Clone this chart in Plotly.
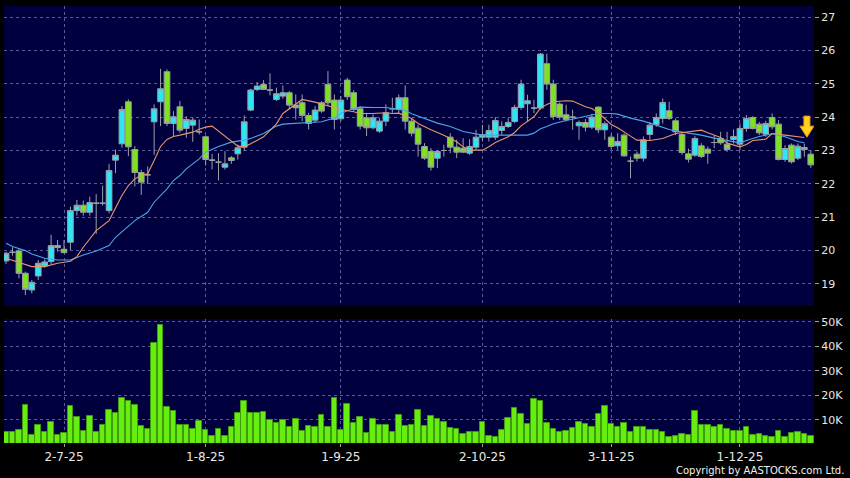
import plotly.graph_objects as go

# ---------------- data ----------------
open_ = [19.69, 19.95, 19.99, 19.32, 18.82, 19.24, 19.54, 19.67, 20.15, 20.04,
         20.25, 21.20, 21.36, 21.15, 21.42, 21.42, 21.20, 22.71, 23.20, 24.46,
         23.03, 22.34, 22.27, 23.86, 24.46, 25.36, 23.81, 24.31, 23.66, 23.76,
         23.56, 23.41, 22.72, 22.65, 22.50, 22.78, 22.90, 23.10, 24.21, 24.83,
         24.98, 24.81, 24.53, 24.63, 24.73, 24.36, 24.43, 24.05, 23.91, 24.43,
         24.98, 24.51, 23.95, 25.11, 24.73, 24.25, 23.98, 23.68, 23.58, 23.88,
         24.25, 24.23, 24.58, 23.88, 23.67, 23.12, 22.97, 22.77, 23.00, 23.40,
         23.10, 23.07, 22.92, 23.10, 23.40, 23.40, 23.40, 23.60, 23.72, 23.87,
         24.29, 24.40, 24.27, 24.27, 25.60, 24.99, 24.39, 24.07, 24.00, 23.74,
         23.84, 23.70, 24.30, 23.62, 23.40, 23.14, 23.46, 22.68, 22.89, 22.77,
         23.48, 23.78, 23.96, 24.19, 23.89, 23.48, 22.90, 22.86, 23.14, 23.04,
         23.24, 23.36, 23.19, 23.33, 23.19, 23.66, 23.99, 23.79, 23.49, 23.99,
         23.79, 22.73, 23.16, 22.77, 23.09, 22.89]
high = [19.97, 20.10, 20.07, 19.37, 19.12, 19.72, 19.74, 20.47, 20.32, 20.32,
        21.32, 21.52, 21.50, 21.62, 21.69, 21.95, 22.60, 23.03, 24.33, 24.53,
        23.13, 22.42, 22.52, 24.38, 25.45, 25.43, 24.18, 24.48, 24.03, 23.98,
        23.93, 23.45, 22.90, 22.92, 22.98, 22.83, 23.18, 24.05, 24.85, 25.05,
        25.11, 25.31, 24.88, 24.95, 24.78, 24.68, 24.68, 24.13, 24.33, 24.48,
        25.38, 24.68, 24.63, 25.18, 24.81, 24.33, 24.13, 24.08, 23.98, 24.38,
        24.58, 24.68, 24.95, 23.95, 23.77, 23.22, 23.07, 23.02, 23.17, 23.52,
        23.32, 23.37, 23.34, 23.62, 23.77, 23.77, 24.00, 23.87, 23.97, 24.37,
        25.12, 24.67, 24.52, 25.92, 25.90, 25.12, 24.44, 24.37, 24.22, 23.90,
        23.94, 24.10, 24.32, 23.87, 23.50, 23.52, 23.51, 22.82, 22.97, 23.42,
        23.86, 24.11, 24.56, 24.46, 23.96, 23.56, 23.06, 23.43, 23.22, 23.12,
        23.46, 23.56, 23.56, 23.63, 23.81, 24.06, 24.03, 23.86, 23.89, 24.11,
        23.91, 23.16, 23.21, 23.21, 23.21, 23.01]
low = [19.60, 19.85, 19.17, 18.67, 18.72, 19.12, 19.49, 19.59, 19.97, 19.92,
       20.02, 21.05, 21.05, 21.05, 20.50, 21.35, 21.12, 22.32, 23.08, 22.83,
       21.92, 21.67, 22.00, 22.87, 23.73, 23.73, 23.43, 23.53, 23.38, 23.26,
       23.48, 22.55, 22.43, 22.10, 22.43, 22.60, 22.73, 22.98, 24.18, 24.78,
       24.83, 24.65, 24.48, 24.55, 24.23, 23.93, 23.88, 23.63, 23.83, 24.13,
       24.33, 23.63, 23.88, 24.51, 24.18, 23.63, 23.43, 23.63, 23.53, 23.73,
       24.13, 24.13, 23.63, 23.42, 22.82, 22.72, 22.40, 22.47, 22.82, 22.92,
       22.77, 22.92, 22.87, 23.02, 23.27, 23.27, 23.32, 23.47, 23.67, 23.82,
       24.22, 23.87, 24.12, 24.22, 24.82, 23.92, 23.92, 23.87, 23.62, 23.32,
       23.57, 23.64, 23.52, 23.32, 23.02, 23.02, 22.81, 22.17, 22.67, 22.67,
       23.31, 23.71, 23.81, 23.91, 23.46, 22.87, 22.64, 22.81, 22.77, 22.60,
       23.07, 23.17, 22.96, 23.21, 23.00, 23.56, 23.63, 23.46, 23.41, 23.63,
       22.70, 22.66, 22.61, 22.71, 22.81, 22.48]
close = [19.92, 19.95, 19.32, 18.84, 19.05, 19.62, 19.66, 20.15, 20.09, 19.94,
         21.20, 21.36, 21.15, 21.44, 21.42, 21.42, 22.40, 22.86, 24.23, 23.11,
         22.34, 22.05, 22.27, 24.25, 24.85, 23.81, 24.01, 23.61, 23.93, 23.91,
         23.56, 22.73, 22.70, 22.65, 22.60, 22.70, 23.08, 23.86, 24.81, 24.93,
         24.83, 24.81, 24.70, 24.73, 24.36, 24.28, 24.05, 23.81, 24.21, 24.18,
         24.43, 23.93, 24.51, 24.61, 24.23, 23.73, 23.68, 23.98, 23.88, 24.13,
         24.25, 24.58, 23.88, 23.52, 23.19, 22.77, 22.50, 22.97, 23.00, 23.10,
         22.95, 22.95, 23.12, 23.40, 23.47, 23.60, 23.90, 23.72, 23.84, 24.29,
         24.99, 24.49, 24.27, 25.89, 24.99, 24.02, 24.00, 23.92, 24.00, 23.84,
         23.70, 24.00, 23.62, 23.80, 23.12, 23.27, 22.84, 22.68, 22.77, 23.32,
         23.76, 23.99, 24.44, 23.96, 23.56, 22.94, 22.74, 23.36, 22.82, 22.92,
         23.24, 23.23, 23.03, 23.42, 23.66, 23.96, 23.66, 23.53, 23.81, 23.71,
         22.73, 23.06, 22.66, 23.13, 23.03, 22.57]
volume_k = [5.0, 5.0, 5.7, 15.9, 3.9, 8.0, 5.2, 9.0, 3.9, 4.5,
            15.8, 11.0, 5.3, 11.4, 5.2, 7.8, 13.9, 12.8, 19.0, 17.6,
            16.2, 7.6, 6.4, 41.4, 48.6, 15.2, 13.7, 7.8, 7.8, 6.4,
            9.3, 6.0, 3.5, 6.1, 3.5, 7.2, 12.9, 17.8, 12.9, 12.9,
            13.3, 9.9, 8.6, 9.9, 6.9, 10.5, 5.3, 7.3, 7.2, 11.8,
            7.2, 18.9, 5.7, 16.5, 8.7, 11.3, 4.5, 10.2, 8.0, 7.8,
            5.0, 12.1, 7.6, 8.0, 14.0, 7.4, 11.7, 10.2, 9.0, 6.7,
            6.3, 4.2, 4.9, 4.9, 9.1, 3.5, 2.9, 5.7, 10.9, 14.6,
            12.5, 8.3, 18.6, 17.8, 8.8, 6.4, 5.0, 5.3, 6.5, 9.2,
            8.4, 7.2, 12.4, 15.5, 8.4, 7.1, 8.7, 5.2, 7.2, 6.9,
            5.7, 5.8, 4.8, 2.9, 3.5, 4.0, 3.7, 13.7, 7.9, 7.9,
            7.1, 8.0, 6.4, 5.3, 5.4, 7.2, 3.7, 4.0, 3.3, 2.9,
            5.6, 3.0, 4.5, 5.2, 4.0, 3.3]

ma10_idx = [0, 2, 4, 6, 8, 10, 11, 12, 13, 14, 16, 17, 18, 19, 20, 21, 22, 23, 24, 25,
            26, 27, 29, 30, 31, 32, 33, 34, 36, 37, 38, 40, 41, 42, 43, 45, 46, 48, 49, 51,
            52, 54, 55, 57, 59, 60, 61, 63, 64, 66, 68, 70, 71, 72, 74, 75, 76, 78, 79, 80,
            82, 83, 84, 85, 87, 88, 90, 91, 92, 94, 95, 97, 98, 100, 102, 104, 106, 108, 109, 111,
            112, 114, 115, 116, 118, 119, 121, 122, 124]
ma10_val = [19.77, 19.65, 19.52, 19.52, 19.62, 19.68, 19.82, 20.10, 20.35, 20.60,
            20.90, 21.30, 21.65, 21.95, 22.15, 22.25, 22.30, 22.70, 23.12, 23.33,
            23.42, 23.46, 23.55, 23.64, 23.70, 23.73, 23.58, 23.43, 23.13, 23.11,
            23.20, 23.41, 23.60, 23.80, 24.11, 24.40, 24.53, 24.45, 24.39, 24.28,
            24.23, 24.16, 24.11, 24.11, 24.13, 24.11, 24.12, 23.96, 23.81, 23.62,
            23.46, 23.26, 23.11, 23.01, 23.01, 23.11, 23.24, 23.41, 23.54, 23.74,
            24.01, 24.27, 24.38, 24.46, 24.49, 24.48, 24.31, 24.26, 24.13, 23.78,
            23.68, 23.43, 23.31, 23.30, 23.36, 23.51, 23.56, 23.61, 23.53, 23.39,
            23.22, 23.11, 23.18, 23.30, 23.34, 23.51, 23.46, 23.43, 23.39]
ma20_idx = [0, 1, 3, 4, 6, 8, 10, 11, 12, 14, 16, 17, 19, 20, 22, 23, 25, 26, 27, 28,
            30, 31, 33, 35, 37, 38, 40, 42, 43, 45, 46, 48, 49, 51, 52, 54, 55, 57, 59, 60,
            62, 63, 65, 67, 69, 71, 74, 76, 78, 79, 81, 82, 83, 84, 85, 87, 90, 92, 94, 95,
            97, 99, 101, 103, 105, 108, 110, 112, 114, 115, 117, 119, 121, 123, 124]
ma20_val = [20.22, 20.12, 20.00, 19.90, 19.77, 19.72, 19.72, 19.80, 19.87, 19.99,
            20.15, 20.40, 20.75, 20.90, 21.15, 21.45, 21.85, 22.10, 22.25, 22.45,
            22.75, 22.95, 23.12, 23.25, 23.31, 23.36, 23.51, 23.73, 23.79, 23.81,
            23.83, 23.83, 23.86, 23.97, 24.12, 24.26, 24.30, 24.29, 24.29, 24.26,
            24.20, 24.10, 23.96, 23.82, 23.72, 23.57, 23.46, 23.46, 23.46, 23.46,
            23.46, 23.52, 23.65, 23.72, 23.80, 23.90, 24.03, 24.11, 24.11, 24.09,
            23.97, 23.88, 23.76, 23.63, 23.55, 23.46, 23.37, 23.29, 23.23, 23.30,
            23.42, 23.50, 23.41, 23.27, 23.23]

tick_idx = [9, 31, 52, 74, 94, 114]
tick_text = ["2-7-25", "1-8-25", "1-9-25", "2-10-25", "3-11-25", "1-12-25"]
price_ticks = [19, 20, 21, 22, 23, 24, 25, 26, 27]
vol_ticks = [10000, 20000, 30000, 40000, 50000]
vol_tick_text = ["10K", "20K", "30K", "40K", "50K"]

marker_idx = 124      # yellow arrow marker candle
marker_tip = 23.40    # price level of the arrow tip

# ---------------- styling ----------------
FONT = "DejaVu Sans"
BG = "#00003f"
GRID = "#5a5a98"
UP = "#2fe6f4"
DOWN = "#7ee31e"
EDGE = "#9aa0a6"
VOLC = "#66ee11"

idx = list(range(len(close)))
up_i = [i for i in idx if close[i] - open_[i] > 0.005]
dn_i = [i for i in idx if open_[i] - close[i] > 0.005]
dj_i = [i for i in idx if abs(close[i] - open_[i]) <= 0.005]


def sub(arr, ids):
    return [arr[i] for i in ids]


def candle(ids, fill, name):
    return go.Candlestick(
        x=ids, open=sub(open_, ids), high=sub(high, ids), low=sub(low, ids),
        close=sub(close, ids), name=name, whiskerwidth=0,
        increasing=dict(fillcolor=fill, line=dict(color=EDGE, width=1)),
        decreasing=dict(fillcolor=fill, line=dict(color=EDGE, width=1)),
        xaxis="x", yaxis="y", showlegend=False, hoverinfo="skip")


fig = go.Figure()
fig.add_trace(go.Scatter(x=ma20_idx, y=ma20_val, mode="lines",
                         line=dict(color="#4aa6e6", width=1.1),
                         xaxis="x", yaxis="y", showlegend=False, hoverinfo="skip"))
fig.add_trace(go.Scatter(x=ma10_idx, y=ma10_val, mode="lines",
                         line=dict(color="#e8956a", width=1.1),
                         xaxis="x", yaxis="y", showlegend=False, hoverinfo="skip"))
fig.add_trace(candle(up_i, UP, "up"))
fig.add_trace(candle(dn_i, DOWN, "down"))
fig.add_trace(candle(dj_i, "#9aa0a6", "flat"))

fig.add_trace(go.Bar(x=idx, y=[v * 1000 for v in volume_k], width=0.86,
                     marker=dict(color=VOLC, line=dict(color="#3f9a10", width=1)),
                     xaxis="x2", yaxis="y2", showlegend=False, hoverinfo="skip"))

# yellow down-arrow marker (built around marker candle)
sw, hw = 0.47, 1.09
top, neck = marker_tip + 0.63, marker_tip + 0.33
cx = marker_idx + 0.4
path = (f"M {cx - sw},{top} L {cx + sw},{top} "
        f"L {cx + sw},{neck} L {cx + hw},{neck} "
        f"L {cx},{marker_tip} L {cx - hw},{neck} "
        f"L {cx - sw},{neck} Z")
fig.add_shape(type="path", path=path, xref="x", yref="y",
              fillcolor="#ffd21f", line=dict(color="#e8950c", width=1))

xr = [-0.32, 125.5]
axis_common = dict(showgrid=True, gridcolor=GRID, griddash="3px,3px", gridwidth=1,
                   zeroline=False, showline=False)

fig.update_layout(
    width=850, height=478,
    margin=dict(l=4, r=36, t=6, b=35),
    paper_bgcolor="#000000", plot_bgcolor=BG,
    font=dict(family=FONT, color="#e8e8e8", size=11),
    boxgap=0.12, boxgroupgap=0, bargap=0,
    hovermode=False,
    xaxis=dict(domain=[0, 1], anchor="y", range=xr, tickvals=tick_idx,
               showticklabels=False, ticks="", rangeslider=dict(visible=False),
               **axis_common),
    yaxis=dict(domain=[0.3135, 1], anchor="x", range=[18.34, 27.33], side="right",
               tickvals=price_ticks, ticks="outside", ticklen=4, tickcolor="#a0a0a0",
               tickfont=dict(size=11, color="#e8e8e8", family=FONT), **axis_common),
    xaxis2=dict(domain=[0, 1], anchor="y2", range=xr, matches="x", tickvals=tick_idx,
                ticktext=tick_text, ticks="outside", ticklen=3, tickcolor="#a0a0a0",
                tickfont=dict(size=12, color="#e8e8e8", family=FONT), **axis_common),
    yaxis2=dict(domain=[0, 0.2838], anchor="x2", range=[500, 51100], side="right",
                tickvals=vol_ticks, ticktext=vol_tick_text, ticks="outside", ticklen=4,
                tickcolor="#a0a0a0", tickfont=dict(size=11, color="#e8e8e8", family=FONT),
                **axis_common),
    annotations=[dict(text="Copyright by AASTOCKS.com Ltd.", xref="paper", yref="paper",
                      x=1.039, y=-0.062, xanchor="right", yanchor="middle", showarrow=False,
                      font=dict(size=10, color="#f0f0f0", family=FONT))],
)

fig.write_html("out.html", config={"displayModeBar": False},
               post_script="document.body.style.margin='0';document.body.style.background='#000';")
